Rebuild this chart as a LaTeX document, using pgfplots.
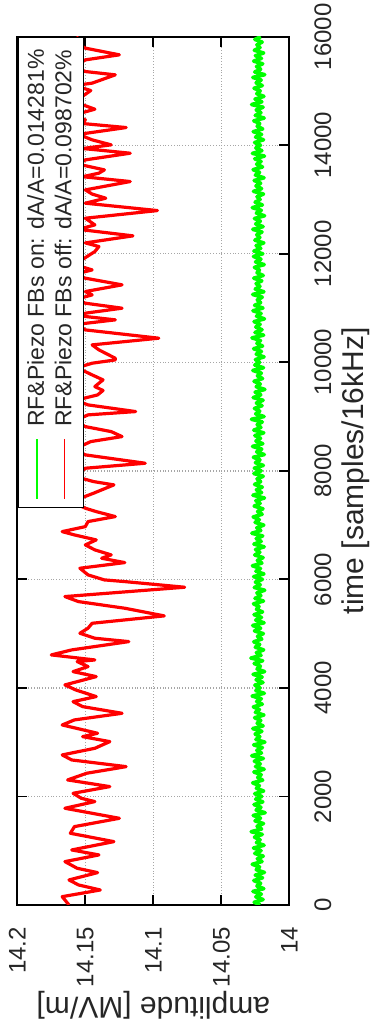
\documentclass[border=0pt]{standalone}
\usepackage{pgfplots}
\pgfplotsset{compat=1.18}
\usepackage{pgfplotstable}
\usepackage{fontspec}
\setmainfont{Liberation Sans}
\definecolor{gnured}{RGB}{255,0,0}
\definecolor{gnugreen}{RGB}{0,255,0}

\pgfplotstableread{
x y
0 14.162
153 14.167
276 14.139
369 14.155
461 14.162
596 14.141
676 14.156
799 14.165
922 14.140
1014 14.160
1167 14.129
1321 14.161
1444 14.158
1597 14.125
1782 14.165
1905 14.143
1966 14.153
2058 14.159
2181 14.132
2304 14.163
2427 14.149
2549 14.120
2672 14.160
2765 14.167
2887 14.143
3010 14.132
3102 14.152
3164 14.141
3317 14.167
3410 14.158
3532 14.123
3655 14.152
3747 14.159
3840 14.142
3962 14.157
4055 14.165
4208 14.142
4300 14.159
4392 14.148
4485 14.156
4515 14.143
4608 14.175
4700 14.160
4853 14.118
4915 14.143
5007 14.154
5100 14.148
5191 14.145
5327 14.092
5468 14.121
5590 14.155
5683 14.165
5855 14.077
5959 14.121
5990 14.136
6082 14.148
6205 14.154
6309 14.121
6389 14.138
6451 14.131
6543 14.143
6635 14.150
6727 14.142
6819 14.158
6880 14.167
6972 14.150
7065 14.148
7157 14.128
7249 14.142
7311 14.150
7433 14.160
7587 14.144
7741 14.129
7802 14.144
7900 14.158
8048 14.150
8140 14.106
8294 14.150
8400 14.158
8539 14.146
8631 14.123
8723 14.131
8815 14.150
8920 14.158
9031 14.148
9092 14.113
9215 14.148
9300 14.157
9399 14.141
9480 14.137
9553 14.143
9676 14.137
9768 14.145
9900 14.156
9983 14.145
10044 14.128
10075 14.128
10229 14.140
10321 14.145
10444 14.096
10597 14.150
10700 14.156
10782 14.128
10850 14.152
10905 14.150
10997 14.123
11089 14.150
11160 14.157
11242 14.145
11304 14.150
11427 14.123
11550 14.150
11620 14.158
11703 14.145
11800 14.158
12041 14.143
12133 14.140
12200 14.150
12330 14.115
12450 14.155
12532 14.143
12655 14.150
12796 14.097
12932 14.150
13024 14.135
13100 14.145
13177 14.150
13331 14.117
13420 14.152
13485 14.140
13546 14.136
13650 14.155
13730 14.150
13853 14.117
13940 14.152
14007 14.131
14099 14.145
14200 14.155
14326 14.120
14400 14.152
14467 14.150
14560 14.158
14664 14.143
14800 14.158
15008 14.146
15100 14.158
15144 14.145
15297 14.128
15358 14.150
15450 14.158
15573 14.150
15666 14.125
15789 14.150
15900 14.158
16000 14.155
}\redtable

\pgfplotstableread{
x y
0 14.0214
50 14.0259
100 14.0193
150 14.0247
200 14.0206
250 14.0268
300 14.0188
350 14.0239
400 14.0211
450 14.0262
500 14.0197
550 14.0251
600 14.0183
650 14.0244
700 14.0219
750 14.0273
800 14.0201
850 14.0236
900 14.0192
950 14.0255
1000 14.0208
1050 14.0264
1100 14.0186
1150 14.0242
1200 14.0215
1250 14.0257
1300 14.0199
1350 14.0281
1400 14.0204
1450 14.0238
1500 14.0190
1550 14.0253
1600 14.0212
1650 14.0266
1700 14.0178
1750 14.0245
1800 14.0209
1850 14.0260
1900 14.0195
1950 14.0248
2000 14.0203
2050 14.0255
2100 14.0189
2150 14.0243
2200 14.0221
2250 14.0270
2300 14.0196
2350 14.0233
2400 14.0207
2450 14.0261
2500 14.0185
2550 14.0249
2600 14.0214
2650 14.0258
2700 14.0191
2750 14.0277
2800 14.0205
2850 14.0240
2900 14.0198
2950 14.0263
3000 14.0180
3050 14.0246
3100 14.0217
3150 14.0252
3200 14.0202
3250 14.0269
3300 14.0193
3350 14.0237
3400 14.0210
3450 14.0256
3500 14.0187
3550 14.0250
3600 14.0220
3650 14.0265
3700 14.0199
3750 14.0241
3800 14.0206
3850 14.0274
3900 14.0184
3950 14.0247
4000 14.0216
4050 14.0254
4100 14.0194
4150 14.0245
4200 14.0200
4250 14.0267
4300 14.0182
4350 14.0238
4400 14.0213
4450 14.0259
4500 14.0196
4550 14.0283
4600 14.0208
4650 14.0243
4700 14.0189
4750 14.0251
4800 14.0218
4850 14.0262
4900 14.0203
4950 14.0235
5000 14.0191
5050 14.0257
5100 14.0211
5150 14.0270
5200 14.0186
5250 14.0248
5300 14.0205
5350 14.0260
5400 14.0197
5450 14.0242
5500 14.0223
5550 14.0264
5600 14.0190
5650 14.0253
5700 14.0209
5750 14.0239
5800 14.0181
5850 14.0258
5900 14.0214
5950 14.0250
6000 14.0198
6050 14.0263
6100 14.0187
6150 14.0246
6200 14.0212
6250 14.0272
6300 14.0202
6350 14.0236
6400 14.0193
6450 14.0255
6500 14.0217
6550 14.0249
6600 14.0185
6650 14.0261
6700 14.0207
6750 14.0244
6800 14.0196
6850 14.0276
6900 14.0210
6950 14.0240
7000 14.0188
7050 14.0252
7100 14.0221
7150 14.0266
7200 14.0200
7250 14.0234
7300 14.0194
7350 14.0259
7400 14.0215
7450 14.0247
7500 14.0183
7550 14.0268
7600 14.0204
7650 14.0243
7700 14.0199
7750 14.0256
7800 14.0211
7850 14.0238
7900 14.0192
7950 14.0261
8000 14.0207
8050 14.0258
8100 14.0191
8150 14.0250
8200 14.0216
8250 14.0265
8300 14.0184
8350 14.0241
8400 14.0203
8450 14.0271
8500 14.0195
8550 14.0246
8600 14.0212
8650 14.0254
8700 14.0188
8750 14.0262
8800 14.0209
8850 14.0237
8900 14.0199
8950 14.0279
9000 14.0186
9050 14.0248
9100 14.0218
9150 14.0257
9200 14.0201
9250 14.0243
9300 14.0193
9350 14.0266
9400 14.0210
9450 14.0252
9500 14.0180
9550 14.0244
9600 14.0214
9650 14.0260
9700 14.0197
9750 14.0235
9800 14.0206
9850 14.0269
9900 14.0190
9950 14.0255
10000 14.0219
10050 14.0250
10100 14.0186
10150 14.0244
10200 14.0205
10250 14.0263
10300 14.0197
10350 14.0239
10400 14.0212
10450 14.0275
10500 14.0189
10550 14.0253
10600 14.0201
10650 14.0247
10700 14.0215
10750 14.0260
10800 14.0183
10850 14.0242
10900 14.0208
10950 14.0268
11000 14.0194
11050 14.0256
11100 14.0211
11150 14.0236
11200 14.0199
11250 14.0270
11300 14.0187
11350 14.0251
11400 14.0216
11450 14.0245
11500 14.0203
11550 14.0262
11600 14.0192
11650 14.0238
11700 14.0220
11750 14.0257
11800 14.0185
11850 14.0249
11900 14.0209
11950 14.0264
12000 14.0195
12050 14.0261
12100 14.0210
12150 14.0245
12200 14.0188
12250 14.0254
12300 14.0217
12350 14.0240
12400 14.0201
12450 14.0269
12500 14.0193
12550 14.0248
12600 14.0213
12650 14.0257
12700 14.0182
12750 14.0243
12800 14.0206
12850 14.0273
12900 14.0198
12950 14.0252
13000 14.0215
13050 14.0238
13100 14.0190
13150 14.0264
13200 14.0204
13250 14.0246
13300 14.0211
13350 14.0259
13400 14.0186
13450 14.0250
13500 14.0219
13550 14.0267
13600 14.0197
13650 14.0241
13700 14.0208
13750 14.0255
13800 14.0183
13850 14.0272
13900 14.0202
13950 14.0247
14000 14.0212
14050 14.0256
14100 14.0190
14150 14.0249
14200 14.0204
14250 14.0266
14300 14.0196
14350 14.0237
14400 14.0218
14450 14.0262
14500 14.0185
14550 14.0251
14600 14.0209
14650 14.0244
14700 14.0193
14750 14.0278
14800 14.0202
14850 14.0253
14900 14.0187
14950 14.0240
15000 14.0214
15050 14.0260
15100 14.0199
15150 14.0245
15200 14.0207
15250 14.0269
15300 14.0181
15350 14.0255
15400 14.0211
15450 14.0242
15500 14.0196
15550 14.0263
15600 14.0205
15650 14.0250
15700 14.0189
15750 14.0258
15800 14.0216
15850 14.0239
15900 14.0200
15950 14.0254
16000 14.0210
}\greentable

\begin{document}
\begin{tikzpicture}[rotate=90, transform shape]
\begin{axis}[
  scale only axis,
  width=434pt, height=136pt,
  xmin=0, xmax=16000, ymin=14, ymax=14.2,
  xtick={0,2000,4000,6000,8000,10000,12000,14000,16000},
  xticklabels={0,2000,4000,6000,8000,10000,12000,14000,16000},
  ytick={14,14.05,14.1,14.15,14.2},
  yticklabels={14,14.05,14.1,14.15,14.2},
  scaled x ticks=false, scaled y ticks=false,
  tick align=inside, tick pos=both,
  major tick length=5pt,
  every tick/.style={black, line width=0.9pt},
  axis line style={black, line width=0.9pt},
  grid=major,
  grid style={densely dotted, black!35, line width=0.7pt},
  tick label style={font=\fontsize{12}{14.4}\selectfont, text=black!85},
  xticklabel style={yshift=-9pt},
  yticklabel style={xshift=-7.5pt},
  label style={font=\fontsize{15}{18}\selectfont, text=black!85},
  xlabel={time [samples/16kHz]},
  ylabel={amplitude [MV/m]},
  x label style={at={(axis description cs:0.5,-0.245)}, anchor=center},
  y label style={at={(axis description cs:-0.1152,0.5)}, anchor=center},
  legend style={at={(rel axis cs:1,1)}, anchor=north east, draw=black, line width=0.8pt,
    fill=white, font=\fontsize{11.5}{14.5}\selectfont, text=black!85,
    inner xsep=4pt, inner ysep=2.5pt},
  legend cell align=left,
  legend image code/.code={\draw[#1, line width=0.8pt] (2pt,0pt) -- (32pt,0pt); \path (35pt,0pt);},
]
\addplot[gnugreen, line width=1.8pt, line join=round] table[x=x, y=y] {\greentable};
\addlegendentry{RF\&Piezo FBs on: dA/A=0.014281\%}
\addplot[gnured, line width=1.6pt, line join=round] table[x=x, y=y] {\redtable};
\addlegendentry{RF\&Piezo FBs off: dA/A=0.098702\%}
\end{axis}
\pgfresetboundingbox
\path (-63.5pt,-44.35pt) rectangle (452.35pt,144.65pt);
\end{tikzpicture}
\end{document}
